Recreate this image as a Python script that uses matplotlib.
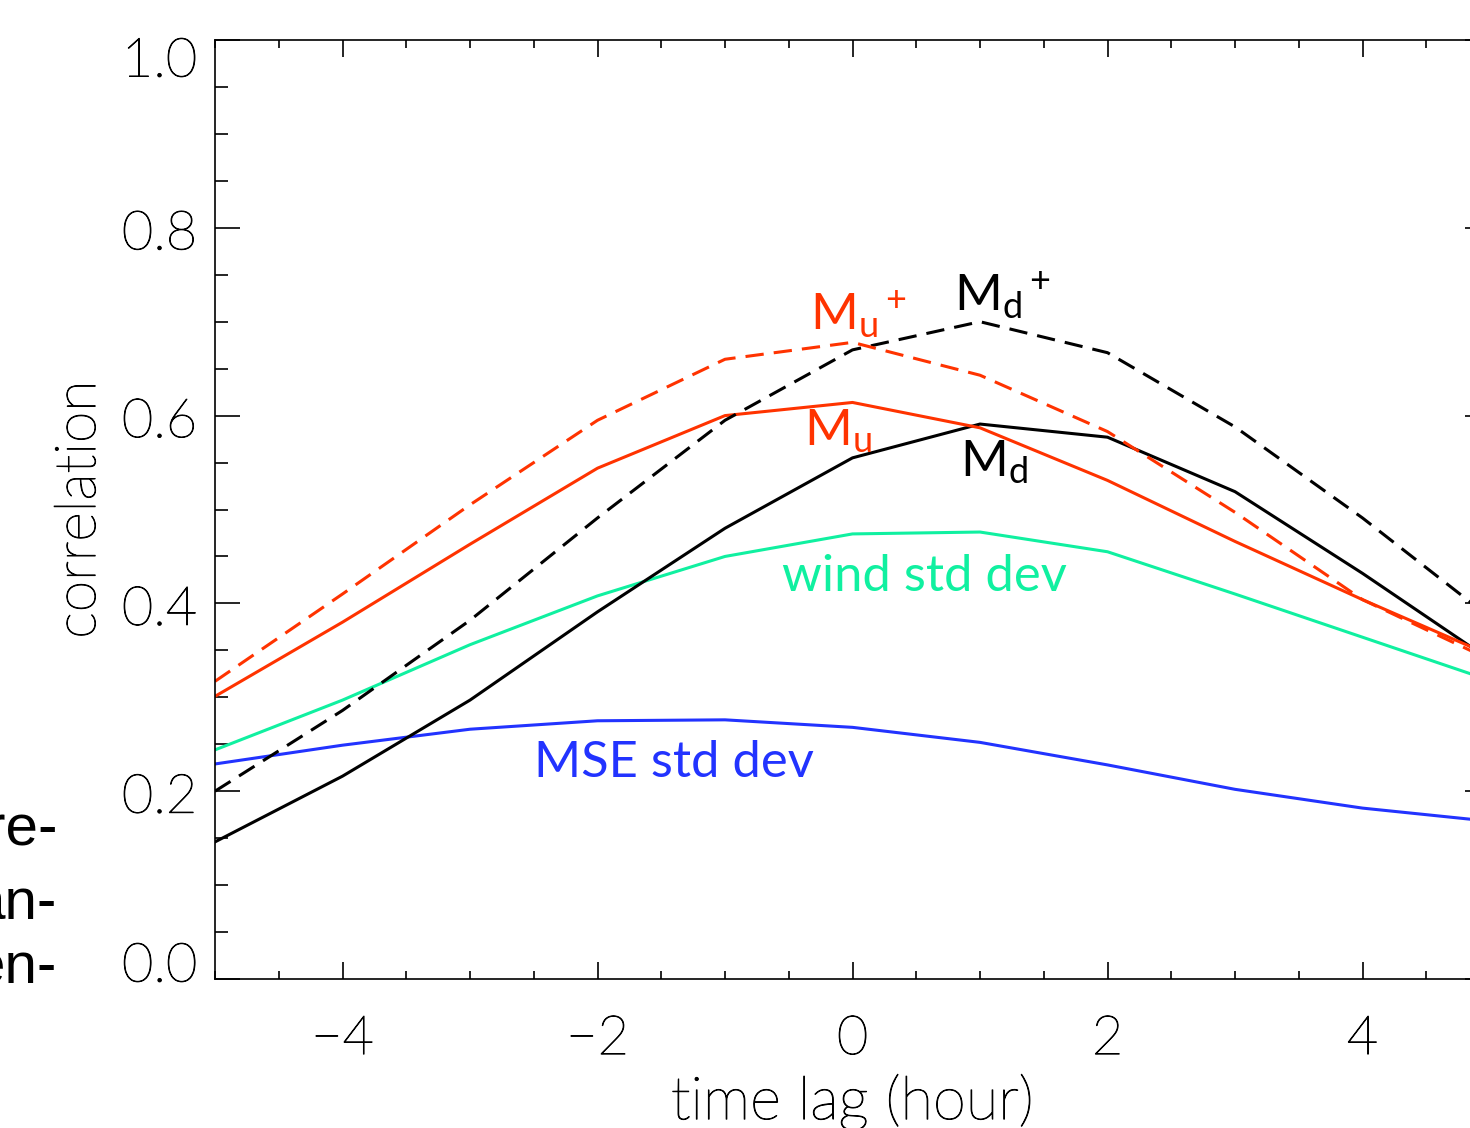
import matplotlib.pyplot as plt
import matplotlib.transforms as mtransforms
import matplotlib.patheffects as pe
from matplotlib.ticker import MultipleLocator

plt.rcParams['mathtext.fontset'] = 'custom'
plt.rcParams['mathtext.rm'] = 'Lato'
plt.rcParams['mathtext.it'] = 'Lato'

lag = [-5, -4, -3, -2, -1, 0, 1, 2, 3, 4, 5]
mu_plus = [0.317, 0.41, 0.505, 0.595, 0.66, 0.678, 0.643, 0.583, 0.497, 0.404, 0.34]
mu = [0.301, 0.38, 0.463, 0.544, 0.60, 0.614, 0.587, 0.531, 0.466, 0.404, 0.345]
md = [0.146, 0.216, 0.297, 0.391, 0.48, 0.555, 0.591, 0.577, 0.519, 0.432, 0.34]
md_plus = [0.20, 0.286, 0.382, 0.491, 0.595, 0.67, 0.70, 0.667, 0.588, 0.491, 0.385]
wind_std = [0.244, 0.297, 0.356, 0.408, 0.45, 0.474, 0.476, 0.455, 0.41, 0.364, 0.318]
mse_std = [0.229, 0.249, 0.266, 0.275, 0.276, 0.268, 0.252, 0.228, 0.202, 0.182, 0.168]

red = '#ff3300'
green = '#10f0a0'
blue = '#2233ff'

fig = plt.figure(figsize=(14.7, 11.28), dpi=100)
ax = fig.add_axes([215 / 1470, 149 / 1128, 1275 / 1470, 939 / 1128])

lw = 2.2
ax.plot(lag, mse_std, color=blue, lw=lw)
ax.plot(lag, wind_std, color=green, lw=lw)
ax.plot(lag, md, color='black', lw=lw)
ax.plot(lag, mu, color=red, lw=lw)
ax.plot(lag, md_plus, color='black', lw=lw, dashes=(6, 3.3))
ax.plot(lag, mu_plus, color=red, lw=lw, dashes=(6, 3.3))

ax.set_xlim(-5, 5)
ax.set_ylim(0, 1)
ax.xaxis.set_minor_locator(MultipleLocator(0.5))
ax.yaxis.set_minor_locator(MultipleLocator(0.05))
ax.set_yticks([0, 0.2, 0.4, 0.6, 0.8, 1.0])
ax.set_yticklabels(['0.0', '0.2', '0.4', '0.6', '0.8', '1.0'])
ax.set_xticks([-4, -2, 0, 2, 4])
ax.set_xticklabels(['\u22124', '\u22122', '0', '2', '4'])

ax.tick_params(which='both', direction='in', top=True, right=True, width=1.2,
               labelsize=39)
ax.tick_params(axis='x', which='major', length=12.5, pad=26)
ax.tick_params(axis='x', which='minor', length=6)
ax.tick_params(axis='y', which='major', length=18, pad=13)
ax.tick_params(axis='y', which='minor', length=9.5)
for s in ax.spines.values():
    s.set_linewidth(1.2)

thin = [pe.withStroke(linewidth=0.7, foreground='black')]
for lab in ax.get_xticklabels() + ax.get_yticklabels():
    lab.set_fontfamily('Lato')
    lab.set_fontweight('light')
    lab.set_color('black')
    lab.set_path_effects(thin)

shifts = {'1.0': -17, '0.0': 17}
for lab in ax.get_yticklabels():
    dy = shifts.get(lab.get_text(), -2)
    lab.set_transform(lab.get_transform() +
                      mtransforms.ScaledTranslation(0, dy / 100, fig.dpi_scale_trans))

ax.set_xlabel('time lag (hour)', fontsize=43, family='Lato', weight='light',
              color='black', labelpad=7, path_effects=thin)
ax.set_ylabel('correlation', fontsize=41, family='Lato', weight='light',
              color='black', labelpad=12, path_effects=thin)

fs = 37
ax.text(-0.33, 0.680, r'$\mathrm{M_u{}^+}$', color=red, fontsize=fs, ha='left', va='bottom')
ax.text(0.80, 0.700, r'$\mathrm{M_d{}^+}$', color='black', fontsize=fs, ha='left', va='bottom')
ax.text(-0.38, 0.583, r'$\mathrm{M_u}$', color=red, fontsize=fs, ha='left', va='center')
ax.text(0.84, 0.550, r'$\mathrm{M_d}$', color='black', fontsize=fs, ha='left', va='center')
ax.text(-0.55, 0.428, 'wind std dev', color=green, fontsize=36.5, family='Lato',
        ha='left', va='center')
ax.text(-2.5, 0.230, 'MSE std dev', color=blue, fontsize=36.5, family='Lato',
        ha='left', va='center')

for txt, yp in [('re-', 830), ('an-', 905), ('en-', 968)]:
    fig.text(57 / 1470, 1 - yp / 1128, txt, fontsize=42, family='Liberation Sans',
             ha='right', va='center')

fig.savefig('out.png', dpi=100)
